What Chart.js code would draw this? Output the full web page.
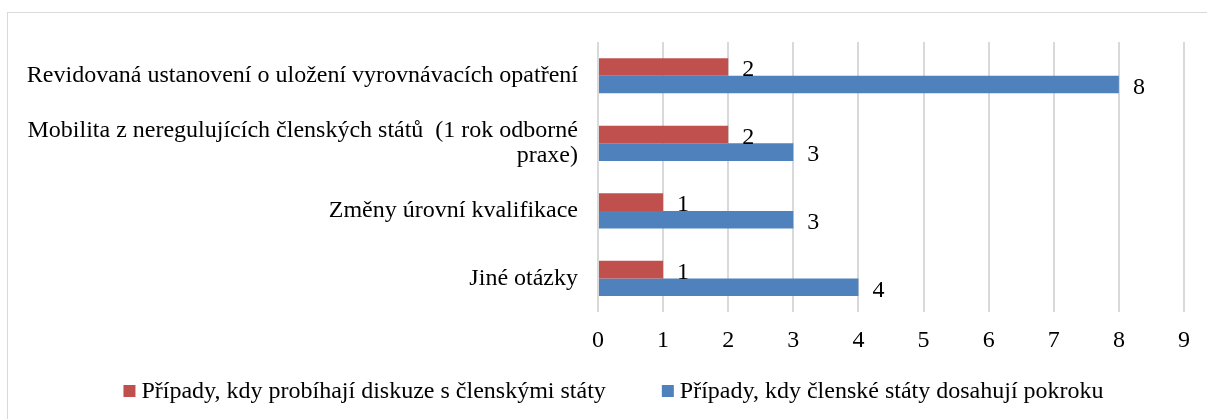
<!DOCTYPE html>
<html>
<head>
<meta charset="utf-8">
<script src="https://cdn.jsdelivr.net/npm/chart.js@4"></script>
<style>
  html, body { margin: 0; padding: 0; background: #fff; overflow: hidden; }
  #frame { position: absolute; left: 7px; top: 12px; width: 1300px; height: 500px; border: 1px solid #d9d9d9; }
  #wrap { position: absolute; left: 0; top: 0; width: 1207px; height: 419px; }
</style>
</head>
<body>
<div id="frame"></div>
<div id="wrap"><canvas id="myChart"></canvas></div>
<script>
const categories = [
  "Revidovaná ustanovení o uložení vyrovnávacích opatření",
  ["Mobilita z neregulujících členských států  (1 rok odborné", "praxe)"],
  "Změny úrovní kvalifikace",
  "Jiné otázky"
];
const seriesNames = [
  "Případy, kdy probíhají diskuze s členskými státy",
  "Případy, kdy členské státy dosahují pokroku"
];
const discussionValues = [2, 2, 1, 1];
const progressValues = [8, 3, 3, 4];
const xTicks = [0, 1, 2, 3, 4, 5, 6, 7, 8, 9];

const serif = "'Liberation Serif', 'Times New Roman', serif";
const fontSize = 24;
Chart.defaults.font.family = serif;
Chart.defaults.color = "#000";

// value labels to the right of each bar
const valueLabels = {
  id: "valueLabels",
  afterDatasetsDraw(chart) {
    const ctx = chart.ctx;
    ctx.save();
    ctx.font = fontSize + "px " + serif;
    ctx.fillStyle = "#000";
    ctx.textAlign = "left";
    ctx.textBaseline = "middle";
    chart.data.datasets.forEach((ds, i) => {
      chart.getDatasetMeta(i).data.forEach((bar, j) => {
        ctx.fillText(String(ds.data[j]), bar.x + 14, bar.y + 3);
      });
    });
    ctx.restore();
  }
};

// legend below the axis, drawn by hand so it does not squeeze the plot
const bottomLegend = {
  id: "bottomLegend",
  afterDraw(chart) {
    const ctx = chart.ctx;
    ctx.save();
    ctx.font = fontSize + "px " + serif;
    ctx.textBaseline = "middle";
    ctx.textAlign = "left";
    const box = 12, gap = 6, itemGap = 56, y = 391;
    const items = chart.data.datasets.map(ds => ({
      text: ds.label, color: ds.backgroundColor, w: ctx.measureText(ds.label).width
    }));
    let total = 0;
    items.forEach((it, i) => { total += box + gap + it.w + (i ? itemGap : 0); });
    let x = chart.width / 2 + 10 - total / 2;
    items.forEach(it => {
      ctx.fillStyle = it.color;
      ctx.fillRect(x, y - box / 2, box, box);
      ctx.fillStyle = "#000";
      ctx.fillText(it.text, x + box + gap, y + 1);
      x += box + gap + it.w + itemGap;
    });
    ctx.restore();
  }
};

new Chart(document.getElementById("myChart"), {
  type: "bar",
  data: {
    labels: categories,
    datasets: [
      { label: seriesNames[0], data: discussionValues, backgroundColor: "#C0504D" },
      { label: seriesNames[1], data: progressValues, backgroundColor: "#4F81BD" }
    ]
  },
  options: {
    indexAxis: "y",
    responsive: true,
    maintainAspectRatio: false,
    animation: false,
    layout: { padding: { top: 42, right: 23, left: 0, bottom: 50 } },
    datasets: { bar: { barPercentage: 1.0, categoryPercentage: 0.52 } },
    scales: {
      x: {
        min: 0,
        max: 9,
        afterBuildTicks: (scale) => { scale.ticks = xTicks.map(v => ({ value: v })); },
        grid: { color: "#d9d9d9", lineWidth: 2, drawTicks: false },
        border: { display: false },
        ticks: { font: { size: fontSize }, padding: 14, color: "#000" }
      },
      y: {
        grid: { display: false, drawTicks: false },
        border: { display: false },
        ticks: { font: { size: fontSize, lineHeight: 1.05 }, padding: 20, color: "#000" },
        afterFit: (scale) => { scale.width = 598; }
      }
    },
    plugins: {
      legend: { display: false },
      tooltip: { enabled: false }
    }
  },
  plugins: [valueLabels, bottomLegend]
});
</script>
</body>
</html>
